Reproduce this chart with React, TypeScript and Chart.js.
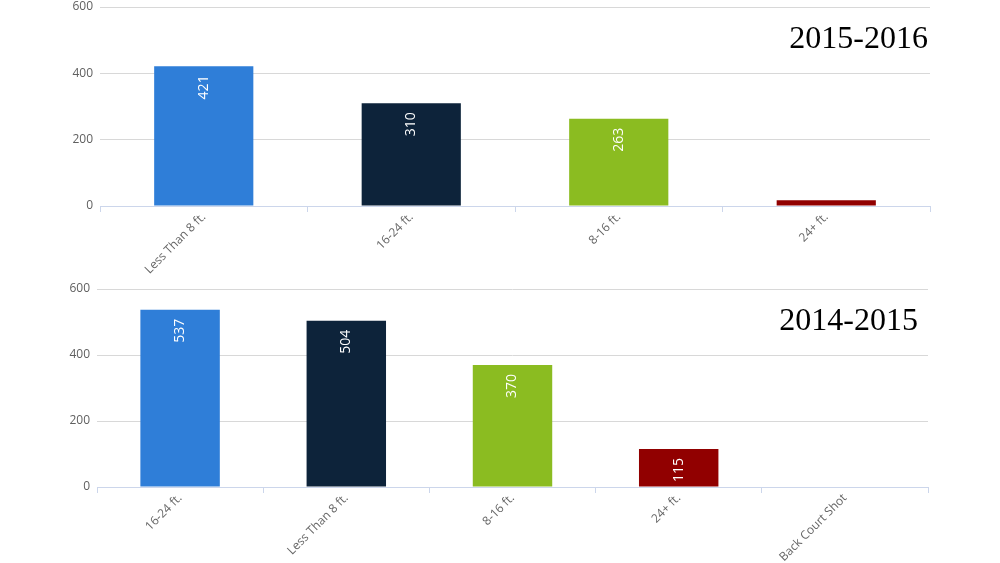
import React, { useEffect, useRef } from "react";
import { Chart, registerables } from "chart.js";

Chart.register(...registerables);

const topCategories = ["Less Than 8 ft.", "16-24 ft.", "8-16 ft.", "24+ ft."];
const topValues = [421, 310, 263, 17];
const topTitle = "2015-2016";

const bottomCategories = ["16-24 ft.", "Less Than 8 ft.", "8-16 ft.", "24+ ft.", "Back Court Shot"];
const bottomValues = [537, 504, 370, 115, 0];
const bottomTitle = "2014-2015";

const yMin = 0;
const yMax = 600;
const yStep = 200;

const palette = ["#2f7ed8", "#0d233a", "#8bbc21", "#910000", "#1aadce"];

const barLabelPlugin = {
  id: "barLabels",
  afterDatasetsDraw(chart: any) {
    const ctx = chart.ctx;
    const meta = chart.getDatasetMeta(0);
    const data = chart.data.datasets[0].data;
    ctx.save();
    ctx.font = "14px 'Open Sans'";
    ctx.fillStyle = "#ffffff";
    ctx.textAlign = "right";
    ctx.textBaseline = "middle";
    meta.data.forEach((bar: any, i: number) => {
      const h = bar.base - bar.y;
      if (h < 32) return;
      ctx.save();
      ctx.translate(bar.x, bar.y + 9);
      ctx.rotate(-Math.PI / 2);
      ctx.fillText(String(data[i]), 0, 0);
      ctx.restore();
    });
    ctx.restore();
  },
};

const titlePlugin = {
  id: "cornerTitle",
  afterDraw(chart: any) {
    const opts = chart.options.plugins.cornerTitle;
    if (!opts) return;
    const ctx = chart.ctx;
    ctx.save();
    ctx.font = "32px 'Liberation Serif'";
    ctx.fillStyle = "#000000";
    ctx.textAlign = "right";
    ctx.textBaseline = "alphabetic";
    ctx.fillText(opts.text, chart.chartArea.right - opts.dx, chart.chartArea.top + opts.dy);
    ctx.restore();
  },
};

function makeConfig(
  labels: string[],
  values: number[],
  title: string,
  layout: { right: number; yWidth: number; xHeight: number; top: number; dx: number; dy: number }
): any {
  return {
    type: "bar",
    data: {
      labels,
      datasets: [
        {
          data: values,
          backgroundColor: palette.slice(0, values.length),
          borderWidth: 0,
          categoryPercentage: 1,
          barPercentage: 0.478,
        },
      ],
    },
    plugins: [barLabelPlugin, titlePlugin],
    options: {
      responsive: false,
      animation: false,
      events: [],
      layout: { padding: { left: 0, right: layout.right, top: layout.top, bottom: 0 } },
      plugins: {
        legend: { display: false },
        tooltip: { enabled: false },
        title: { display: false },
        cornerTitle: { text: title, dx: layout.dx, dy: layout.dy },
      },
      scales: {
        y: {
          min: yMin,
          max: yMax,
          ticks: {
            stepSize: yStep,
            color: "#606060",
            font: { family: "'Open Sans'", size: 12 },
            padding: 7,
          },
          grid: { color: "#d8d8d8", lineWidth: 1, drawTicks: false },
          border: { display: false },
          afterFit(scale: any) {
            scale.width = layout.yWidth;
            scale.paddingTop = 0;
            scale.paddingBottom = 0;
          },
        },
        x: {
          ticks: {
            color: "#666666",
            font: { family: "'Open Sans'", size: 12 },
            minRotation: 45,
            maxRotation: 45,
            autoSkip: false,
            padding: -2,
          },
          grid: {
            offset: true,
            drawOnChartArea: false,
            drawTicks: true,
            tickLength: 6,
            color: "#ccd6eb",
          },
          border: { display: true, color: "#ccd6eb" },
          afterFit(scale: any) {
            scale.height = layout.xHeight;
            scale.paddingLeft = 0;
            scale.paddingRight = 0;
          },
        },
      },
    },
  };
}

function BarPanel(props: {
  labels: string[];
  values: number[];
  title: string;
  height: number;
  top: number;
  layout: { right: number; yWidth: number; xHeight: number; top: number; dx: number; dy: number };
}) {
  const ref = useRef<HTMLCanvasElement | null>(null);
  useEffect(() => {
    if (!ref.current) return;
    const chart = new Chart(ref.current, makeConfig(props.labels, props.values, props.title, props.layout));
    return () => chart.destroy();
  }, []);
  return (
    <div style={{ position: "absolute", left: 0, top: props.top, width: 1000, height: props.height }}>
      <canvas ref={ref} width={1000} height={props.height} style={{ display: "block" }} />
    </div>
  );
}

export default function App() {
  return (
    <div style={{ position: "fixed", left: 0, top: 0, width: 1000, height: 563, background: "#ffffff", overflow: "hidden" }}>
      <BarPanel
        labels={topCategories}
        values={topValues}
        title={topTitle}
        height={280}
        top={0}
        layout={{ right: 70, yWidth: 100, xHeight: 74, top: 7, dx: 2, dy: 41 }}
      />
      <BarPanel
        labels={bottomCategories}
        values={bottomValues}
        title={bottomTitle}
        height={283}
        top={280}
        layout={{ right: 72, yWidth: 97, xHeight: 76, top: 9, dx: 10, dy: 41 }}
      />
    </div>
  );
}
